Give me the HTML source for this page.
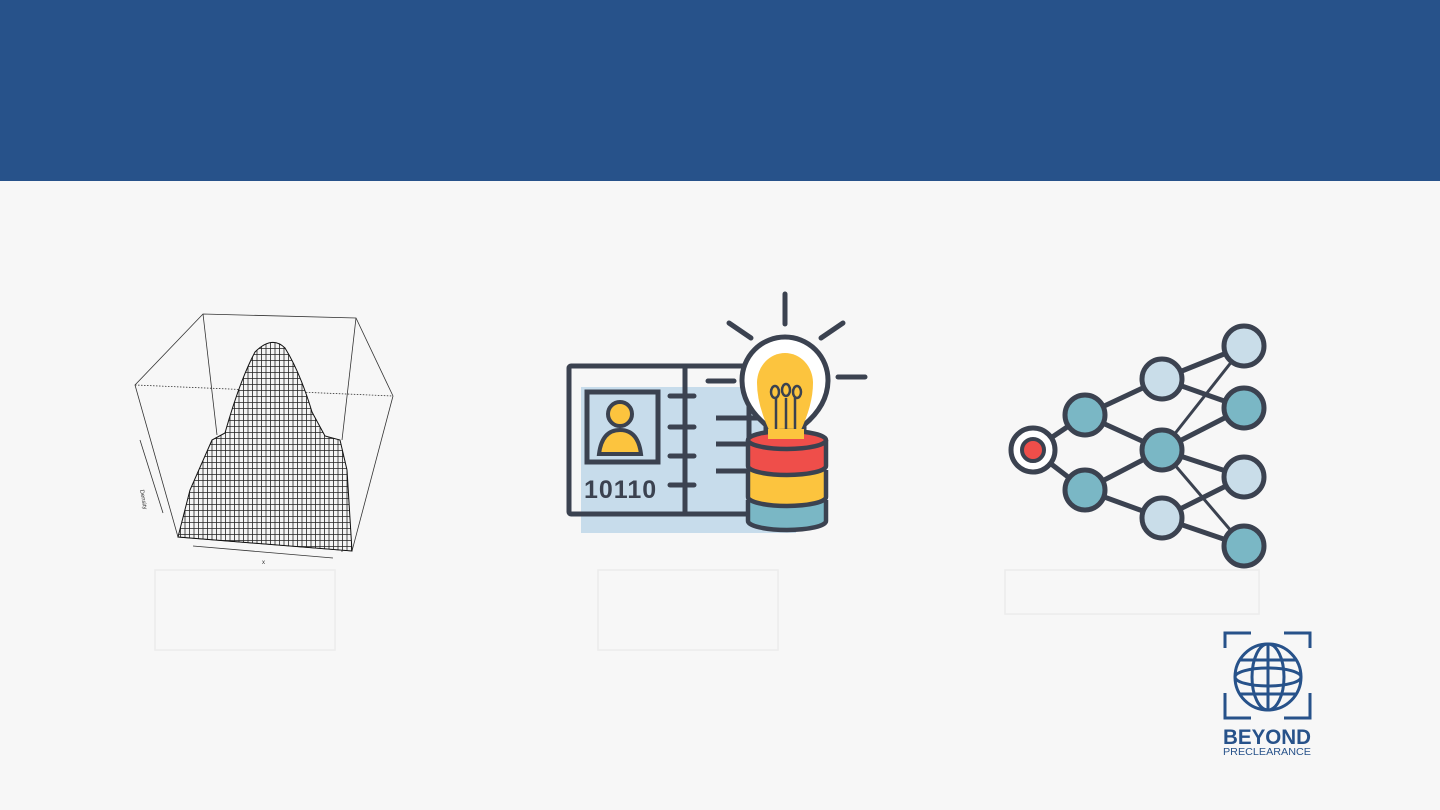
<!DOCTYPE html>
<html><head><meta charset="utf-8"><style>
html,body{margin:0;padding:0;background:#f7f7f7;}
body{width:1440px;height:810px;overflow:hidden;position:relative;font-family:"Liberation Sans",sans-serif;}
.hdr{position:absolute;left:0;top:0;width:1440px;height:181px;background:#27528a;}
svg{position:absolute;left:0;top:0;}
</style></head><body>
<div class="hdr"></div>
<svg width="1440" height="810" viewBox="0 0 1440 810">
<defs>
<pattern id="mesh" width="4.5" height="6" patternUnits="userSpaceOnUse">
<rect width="4.5" height="6" fill="#f4f4f4"/>
<path d="M0.5 0V6M0 0.5H4.5" stroke="#222" stroke-width="0.8"/>
</pattern>
</defs>
<!-- 3D plot -->
<g fill="none" stroke="#333" stroke-width="0.8">
<path d="M203 314 L356 318 L393 396 L352 551 L178 537 L135 385 Z"/>
<path d="M135 385 L393 396" stroke-dasharray="1.5 1.5"/>
<path d="M203 314 L217 435 M356 318 L342 440"/>
<path d="M140 440 L163 513 M193 546 L333 558 M340 440 L342 552"/>
</g>
<path d="M178 537 L190 490 L212 440 L225 433 Q240 380 255 352 Q272 335 285 348 Q300 372 312 412 L325 436 L340 440 L347 470 L352 551 Z" fill="url(#mesh)" stroke="#111" stroke-width="1"/>
<text x="262" y="564" font-size="6" fill="#333">x</text>
<text x="140" y="490" font-size="6" fill="#333" transform="rotate(80 140 490)">Density</text>
<!-- caption boxes -->
<g fill="none" stroke="#ececec" stroke-width="1.5">
<rect x="155" y="570" width="180" height="80"/>
<rect x="598" y="570" width="180" height="80"/>
<rect x="1005" y="570" width="254" height="44"/>
</g>
<!-- book icon -->
<rect x="581" y="387" width="215" height="146" fill="#c7dceb"/>
<g stroke="#3b4250" stroke-width="5" fill="none" stroke-linecap="round">
<rect x="569" y="366" width="180" height="148" rx="2"/>
<line x1="685" y1="366" x2="685" y2="514"/>
<line x1="670" y1="396" x2="694" y2="396"/>
<line x1="670" y1="427" x2="694" y2="427"/>
<line x1="670" y1="456" x2="694" y2="456"/>
<line x1="670" y1="485" x2="694" y2="485"/>
<line x1="716" y1="418" x2="760" y2="418" stroke-linecap="butt"/>
<line x1="716" y1="444" x2="760" y2="444" stroke-linecap="butt"/>
<line x1="716" y1="471" x2="760" y2="471" stroke-linecap="butt"/>
<line x1="708" y1="381" x2="734" y2="381"/>
</g>
<rect x="587" y="392" width="71" height="70" fill="none" stroke="#3b4250" stroke-width="5"/>
<circle cx="620" cy="414" r="12" fill="#fcc43e" stroke="#3b4250" stroke-width="4"/>
<path d="M599 454 Q602 430 620 430 Q638 430 641 454 Z" fill="#fcc43e" stroke="#3b4250" stroke-width="4"/>
<text x="584" y="498" font-size="25" font-weight="bold" fill="#3b4250" letter-spacing="1">10110</text>
<!-- bulb -->
<g stroke="#3b4250" stroke-width="5" stroke-linecap="round">
<line x1="785" y1="294" x2="785" y2="324"/>
<line x1="729" y1="323" x2="751" y2="338"/>
<line x1="821" y1="338" x2="843" y2="323"/>
<line x1="838" y1="377" x2="865" y2="377"/>
</g>
<path d="M766 440 L766 425 Q742 405 742 380 A43 43 0 0 1 828 380 Q828 405 804 425 L804 440 Z" fill="#fff" stroke="#3b4250" stroke-width="5"/>
<path d="M770 432 Q757 405 757 383 A28 30 0 0 1 813 383 Q813 405 800 432 Z" fill="#fcc43e"/>
<g stroke="#3b4250" stroke-width="2.5" fill="none">
<path d="M776 440 L776 398 M786 440 L786 398 M795 440 L795 398"/>
<ellipse cx="775" cy="392" rx="4" ry="6"/><ellipse cx="786" cy="390" rx="4" ry="6"/><ellipse cx="797" cy="392" rx="4" ry="6"/>
</g>
<!-- database -->
<g stroke="#3b4250" stroke-width="4.5">
<path d="M748 500 L748 521 A39 9 0 0 0 826 521 L826 500" fill="#7ab7c5"/>
<path d="M748 470 L748 497 A39 9 0 0 0 826 497 L826 470" fill="#fcc43e"/>
<path d="M748 440 L748 466 A39 9 0 0 0 826 466 L826 440" fill="#ef4e4a"/>
<ellipse cx="787" cy="440" rx="39" ry="9" fill="#ef4e4a"/>
</g>
<rect x="768" y="429" width="36" height="10" fill="#fcc43e"/>
<!-- neural network -->
<g stroke="#3b4250" stroke-width="5">
<line x1="1033" y1="450" x2="1085" y2="415"/><line x1="1033" y1="450" x2="1085" y2="490"/>
<line x1="1085" y1="415" x2="1162" y2="379"/><line x1="1085" y1="415" x2="1162" y2="450"/>
<line x1="1085" y1="490" x2="1162" y2="450"/><line x1="1085" y1="490" x2="1162" y2="518"/>
<line x1="1162" y1="379" x2="1244" y2="346"/><line x1="1162" y1="379" x2="1244" y2="408"/>
<line x1="1162" y1="450" x2="1244" y2="408"/><line x1="1162" y1="450" x2="1244" y2="477"/>
<line x1="1162" y1="518" x2="1244" y2="477"/><line x1="1162" y1="518" x2="1244" y2="546"/>
</g>
<g stroke="#3b4250" stroke-width="3">
<line x1="1162" y1="450" x2="1244" y2="346"/><line x1="1162" y1="450" x2="1244" y2="546"/>
</g>
<g stroke="#3b4250" stroke-width="5">
<circle cx="1033" cy="450" r="22" fill="#fff"/>
<circle cx="1033" cy="450" r="11" fill="#ef4e4a" stroke-width="4"/>
<circle cx="1085" cy="415" r="20" fill="#7ab7c5"/>
<circle cx="1085" cy="490" r="20" fill="#7ab7c5"/>
<circle cx="1162" cy="379" r="20" fill="#c9dde9"/>
<circle cx="1162" cy="450" r="20" fill="#7ab7c5"/>
<circle cx="1162" cy="518" r="20" fill="#c9dde9"/>
<circle cx="1244" cy="346" r="20" fill="#c9dde9"/>
<circle cx="1244" cy="408" r="20" fill="#7ab7c5"/>
<circle cx="1244" cy="477" r="20" fill="#c9dde9"/>
<circle cx="1244" cy="546" r="20" fill="#7ab7c5"/>
</g>
<!-- logo -->
<g stroke="#27528a" stroke-width="3" fill="none">
<path d="M1225 648 V633 H1251 M1284 633 H1310 V648 M1225 693 V718 H1251 M1284 718 H1310 V693"/>
<circle cx="1268" cy="677" r="33"/>
<ellipse cx="1268" cy="677" rx="16" ry="33"/>
<line x1="1268" y1="644" x2="1268" y2="710"/>
<ellipse cx="1268" cy="677" rx="33" ry="9"/>
<line x1="1240" y1="660" x2="1296" y2="660"/>
<line x1="1240" y1="694" x2="1296" y2="694"/>
</g>
<text x="1267" y="744" font-size="21" font-weight="bold" fill="#27528a" text-anchor="middle" textLength="88" lengthAdjust="spacingAndGlyphs">BEYOND</text>
<text x="1267" y="755" font-size="10" fill="#27528a" text-anchor="middle" textLength="88" lengthAdjust="spacingAndGlyphs">PRECLEARANCE</text>
</svg>
</body></html>
